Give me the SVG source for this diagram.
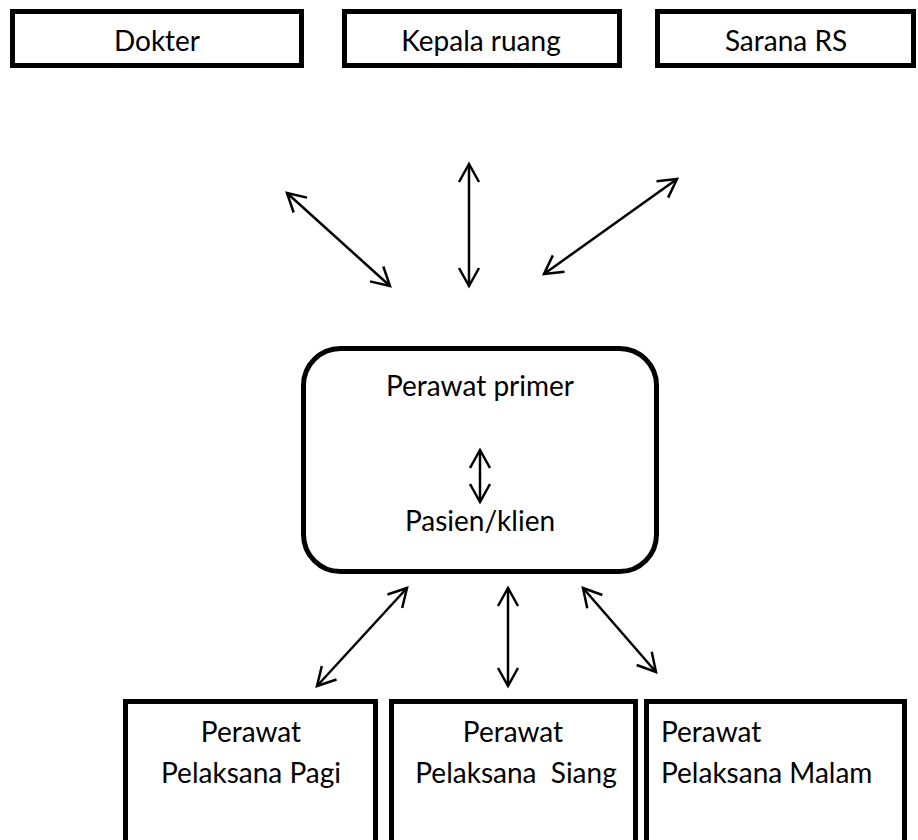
<svg xmlns="http://www.w3.org/2000/svg" width="918" height="840" viewBox="0 0 918 840">
<defs>
<style>
.box{fill:#fff;stroke:#000;stroke-width:5}
.lbl{font-family:Lato,"Open Sans","Liberation Sans",sans-serif;font-size:28px;fill:#000}
.mid{text-anchor:middle}
.con{stroke:#000;stroke-width:2.5;fill:none;marker-start:url(#ah);marker-end:url(#ah)}
</style>
<marker id="ah" markerUnits="userSpaceOnUse" viewBox="-20 -12 24 24" markerWidth="24" markerHeight="24" refX="0" refY="0" orient="auto-start-reverse">
<path d="M-18,-10 L0,0 L-18,10" fill="none" stroke="#000" stroke-width="2.5" stroke-linejoin="miter"/>
</marker>
</defs>
<rect width="918" height="840" fill="#fff"/>
<g id="dokter">
<rect class="box" x="12.5" y="11.5" width="289" height="54"/>
<text class="lbl mid" x="157" y="51">Dokter</text>
</g>
<g id="kepala-ruang">
<rect class="box" x="344.5" y="11.5" width="275" height="54"/>
<text class="lbl mid" x="481" y="51">Kepala ruang</text>
</g>
<g id="sarana-rs">
<rect class="box" x="657.5" y="11.5" width="256" height="54"/>
<text class="lbl mid" x="786" y="51">Sarana RS</text>
</g>
<g id="perawat-primer">
<rect class="box" x="303.5" y="348.5" width="353" height="223" rx="37" ry="37"/>
<text class="lbl mid" x="480" y="396">Perawat primer</text>
<text class="lbl mid" x="480" y="531">Pasien/klien</text>
</g>
<g id="pagi">
<rect class="box" x="125.5" y="701.5" width="250" height="150"/>
<text class="lbl mid" x="251" y="742">Perawat</text>
<text class="lbl mid" x="251" y="783">Pelaksana Pagi</text>
</g>
<g id="siang">
<rect class="box" x="391.5" y="701.5" width="244" height="150"/>
<text class="lbl mid" x="513" y="742">Perawat</text>
<text class="lbl mid" x="516" y="783" xml:space="preserve">Pelaksana  Siang</text>
</g>
<g id="malam">
<rect class="box" x="646.5" y="701.5" width="258" height="150"/>
<text class="lbl" x="661" y="742">Perawat</text>
<text class="lbl" x="661" y="783">Pelaksana Malam</text>
</g>
<g id="connectors">
<line class="con" x1="287" y1="193" x2="390" y2="286"/>
<line class="con" x1="469" y1="164" x2="469" y2="286"/>
<line class="con" x1="677" y1="179" x2="544" y2="274"/>
<line class="con" x1="480" y1="450" x2="480" y2="502"/>
<line class="con" x1="407" y1="588" x2="317" y2="686"/>
<line class="con" x1="508" y1="588" x2="508" y2="686"/>
<line class="con" x1="583" y1="588" x2="656" y2="672"/>
</g>
</svg>
